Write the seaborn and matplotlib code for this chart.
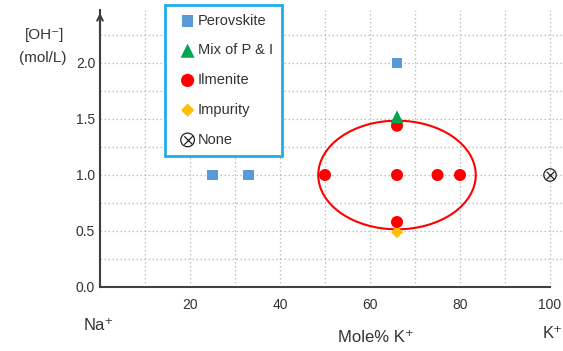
import numpy as np
import pandas as pd
import matplotlib
matplotlib.use('Agg')
import matplotlib.pyplot as plt
from matplotlib.patches import Ellipse
from matplotlib.ticker import MultipleLocator
from matplotlib.legend_handler import HandlerTuple
import seaborn as sns

# ── data ──────────────────────────────────────────────────
perov_x = [25, 33, 66]
perov_y = [1.0, 1.0, 2.0]
mix_x = [66]
mix_y = [1.52]
ilm_x = [50, 66, 75, 80, 66, 66]
ilm_y = [1.0, 1.0, 1.0, 1.0, 1.44, 0.58]
imp_x = [66]
imp_y = [0.49]
none_x = [100]
none_y = [1.0]

x_ticks = [20, 40, 60, 80, 100]
y_ticks = [0.0, 0.5, 1.0, 1.5, 2.0]

# ellipse around the ilmenite region
ell_center = (66, 1.0)
ell_w, ell_h = 35, 0.97

BLUE = '#5b9bd5'
GREEN = '#00a650'
RED = '#ff0000'
GOLD = '#ffc000'
TXT = '#333333'
AXC = '#404040'

sns.set_style('white')
plt.rcParams['font.family'] = ['Liberation Sans', 'DejaVu Sans']

fig = plt.figure(figsize=(5.63, 3.51), dpi=100)
ax = fig.add_axes([100 / 563, 1 - 287 / 351, 463 / 563, 277 / 351])

groups = [
    ('Perovskite', perov_x, perov_y, 's', BLUE, 55),
    ('Impurity', imp_x, imp_y, 'D', GOLD, 38),
    ('Ilmenite', ilm_x, ilm_y, 'o', RED, 75),
    ('Mix of P & I', mix_x, mix_y, '^', GREEN, 85),
]
for name, xs, ys, mk, col, sz in groups:
    d = pd.DataFrame({'x': xs, 'y': ys})
    sns.scatterplot(data=d, x='x', y='y', marker=mk, color=col, s=sz,
                    edgecolor='none', linewidth=0,
                    ax=ax, label=name, zorder=4, clip_on=False)

# "None" = open circle with a cross inside
d_none = pd.DataFrame({'x': none_x, 'y': none_y})
sns.scatterplot(data=d_none, x='x', y='y', marker='o', s=80,
                facecolor='none', edgecolor='#222222', linewidth=0.9,
                ax=ax, zorder=4, clip_on=False)
sns.scatterplot(data=d_none, x='x', y='y', marker='x', s=30,
                color='#222222', linewidth=0.9,
                ax=ax, zorder=4, clip_on=False)
none_handle = (ax.collections[-2], ax.collections[-1])

ax.add_patch(Ellipse(ell_center, ell_w, ell_h, fill=False,
                     edgecolor=RED, linewidth=1.5, zorder=3))

ax.set_xlim(0, 463 / 4.5)
ax.set_ylim(0, 277 / 112)
ax.set_xticks(x_ticks)
ax.set_yticks(y_ticks)
ax.set_yticklabels([f'{v:.1f}' for v in y_ticks])
ax.xaxis.set_minor_locator(MultipleLocator(10))
ax.yaxis.set_minor_locator(MultipleLocator(0.25))
ax.grid(True, which='both', color='#bdbdbd', linestyle=(0, (1.2, 2)), linewidth=0.9)
ax.tick_params(which='both', direction='in', color=AXC, labelcolor=TXT,
               labelsize=10)
ax.tick_params(which='major', length=5, width=1.3)
ax.tick_params(which='minor', length=4, width=1.3)
ax.tick_params(axis='x', pad=8)
ax.set_xlabel('')
ax.set_ylabel('')

for s in ['top', 'right']:
    ax.spines[s].set_visible(False)
for s in ['left', 'bottom']:
    ax.spines[s].set_color(AXC)
    ax.spines[s].set_linewidth(1.5)
ax.spines['bottom'].set_bounds(0, 100)
ax.annotate('', xy=(0, 1.0), xytext=(0, 0.9), xycoords='axes fraction',
            arrowprops=dict(arrowstyle='->', color=AXC, lw=1.5,
                            mutation_scale=10))

# axis captions
fig.text(45 / 563, 1 - 35 / 351, '[OH⁻]', ha='center', va='center',
         fontsize=11, color=TXT)
fig.text(43 / 563, 1 - 58 / 351, '(mol/L)', ha='center', va='center',
         fontsize=11, color=TXT)
fig.text(99 / 563, 1 - 325 / 351, 'Na⁺', ha='center', va='center',
         fontsize=12, color=TXT)
fig.text(376 / 563, 1 - 337 / 351, 'Mole% K⁺', ha='center', va='center',
         fontsize=12, color=TXT)
fig.text(553 / 563, 1 - 333 / 351, 'K⁺', ha='center', va='center',
         fontsize=12, color=TXT)

# legend in the reference order
h, l = ax.get_legend_handles_labels()
order = ['Perovskite', 'Mix of P & I', 'Ilmenite', 'Impurity']
hs = [h[l.index(n)] for n in order] + [none_handle]
order = order + ['None']
if ax.get_legend() is not None:
    ax.get_legend().remove()
leg = fig.legend(hs, order, loc='upper left',
                 bbox_to_anchor=(165 / 563, 1 - 5 / 351),
                 fontsize=10.5, labelspacing=1.08, handletextpad=-0.25,
                 handlelength=1.9, borderpad=0.6, borderaxespad=0,
                 markerscale=1.1,
                 handler_map={tuple: HandlerTuple(ndivide=1, pad=0)},
                 frameon=True, fancybox=False, framealpha=1)
leg.get_frame().set_edgecolor('#1eaeea')
leg.get_frame().set_linewidth(2)
for t in leg.get_texts():
    t.set_color(TXT)

fig.savefig('out.png', dpi=100)
